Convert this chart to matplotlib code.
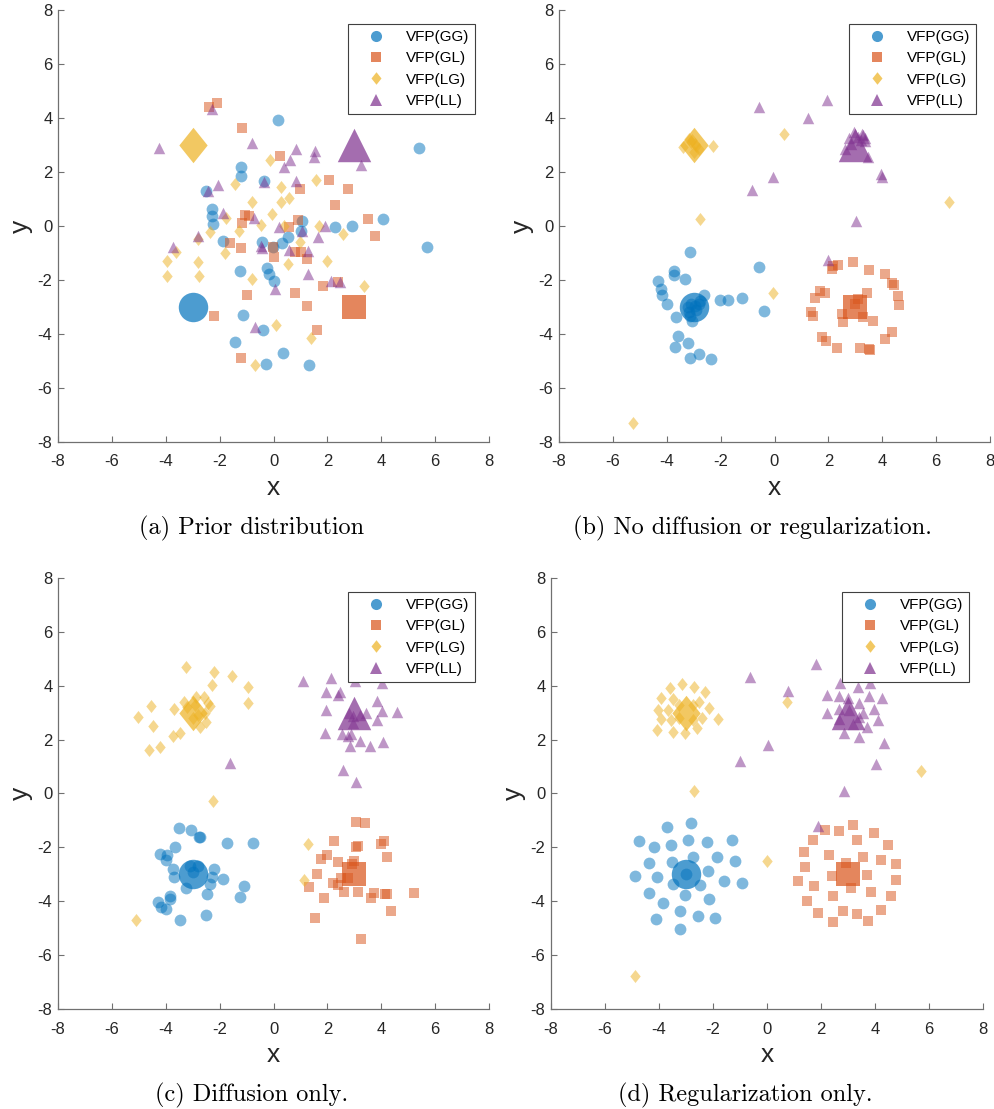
import matplotlib
matplotlib.use("Agg")
from matplotlib import pyplot as plt
from matplotlib.lines import Line2D
import numpy as np

plt.rcParams['font.family'] = ['Liberation Sans', 'DejaVu Sans']
plt.rcParams['axes.unicode_minus'] = False

series_names = ['VFP(GG)', 'VFP(GL)', 'VFP(LG)', 'VFP(LL)']
series_colors = ['#0072BD', '#D95319', '#EDB120', '#7E2F8E']
mean_x = [-3, 3, -3, 3]
mean_y = [-3, -3, 3, 3]
ticks = [-8, -6, -4, -2, 0, 2, 4, 6, 8]
captions = ['(a) Prior distribution', '(b) No diffusion or regularization.',
            '(c) Diffusion only.', '(d) Regularization only.']

# (a) prior samples
prior_gg = [(0.15, 3.91), (5.41, 2.90), (-1.19, 2.19), (-1.19, 1.85), (-0.35, 1.65), (-2.49, 1.28),
            (-2.28, 0.63), (-2.28, 0.38), (-2.24, 0.07), (4.07, 0.26), (1.07, 0.20), (2.28, -0.02),
            (2.90, -0.01), (1.02, -0.17), (0.54, -0.40), (0.30, -0.63), (-1.88, -0.57), (-0.42, -0.61),
            (-0.01, -0.76), (5.68, -0.79), (-1.23, -1.67), (-0.25, -1.56), (-0.17, -1.78), (0.02, -2.04),
            (-1.15, -3.28), (-0.40, -3.85), (-1.44, -4.28), (0.37, -4.69), (-0.26, -5.10), (1.31, -5.13)]
prior_gl = [(-2.39, 4.41), (-2.11, 4.56), (-1.16, 3.64), (0.24, 2.59), (2.06, 1.71), (0.98, 1.36),
            (2.75, 1.36), (2.30, 0.78), (3.52, 0.26), (3.76, -0.38), (-1.04, 0.41), (-0.90, 0.38),
            (-1.16, 0.11), (0.92, 0.22), (0.58, -0.05), (-1.61, -0.63), (-1.21, -0.83), (-0.01, -0.77),
            (0.02, -1.16), (0.79, -0.98), (1.02, -0.95), (1.23, -1.23), (1.85, -2.22), (2.38, -2.07),
            (-0.97, -2.54), (0.79, -2.49), (-2.20, -3.33), (1.25, -2.96), (1.60, -3.85), (-1.19, -4.88)]
prior_lg = [(-0.14, 2.43), (1.57, 1.72), (0.27, 1.46), (-1.42, 1.56), (-0.78, 0.90), (0.27, 0.90),
            (0.58, 1.03), (-0.05, 0.45), (-1.77, 0.28), (-0.45, 0.04), (0.38, 0.01), (-1.29, -0.17),
            (-2.37, -0.21), (-2.82, -0.48), (1.70, 0.01), (2.59, -0.30), (0.98, -0.58), (-3.63, -0.98),
            (-3.94, -1.29), (-2.82, -1.35), (-1.81, -1.00), (0.52, -1.41), (1.98, -1.29), (-3.94, -1.85),
            (-2.77, -1.87), (-0.78, -1.97), (3.36, -2.24), (0.11, -3.67), (1.39, -4.15), (-0.69, -5.13)]
prior_ll = [(-2.28, 4.32), (-4.25, 2.89), (-0.79, 3.08), (0.82, 2.86), (1.54, 2.77), (1.51, 2.55),
            (0.61, 2.45), (0.40, 2.18), (3.24, 2.27), (0.82, 1.68), (-0.36, 1.62), (-2.06, 1.52),
            (-2.43, 1.30), (-1.87, 0.48), (-0.72, 0.31), (0.20, -0.05), (1.07, -0.17), (1.91, 0.01),
            (1.66, -0.40), (-2.82, -0.36), (-3.73, -0.76), (-0.45, -0.73), (-0.42, -0.83), (0.58, -0.89),
            (1.29, -0.92), (1.29, -1.78), (2.13, -2.04), (2.46, -2.07), (0.05, -2.34), (-0.69, -3.74)]

# (b) no diffusion or regularization
plain_gg = [(-3.13, -0.98), (-0.59, -1.53), (-3.73, -1.67), (-3.73, -1.83), (-3.32, -1.96), (-4.33, -2.05),
            (-4.22, -2.35), (-4.18, -2.57), (-4.00, -2.88), (-2.60, -2.57), (-2.76, -2.76), (-2.02, -2.75),
            (-1.71, -2.75), (-1.19, -2.66), (-0.38, -3.13), (-3.66, -3.38), (-3.19, -3.17), (-3.07, -3.50),
            (-3.13, -3.32), (-3.59, -4.08), (-3.22, -4.34), (-3.69, -4.49), (-2.82, -4.74), (-3.13, -4.90),
            (-2.35, -4.93), (-3.10, -2.90), (-2.90, -3.10), (-2.80, -2.90), (-3.20, -3.00), (-2.95, -2.95)]
plain_gl = [(2.91, -1.34), (2.34, -1.46), (2.13, -1.58), (2.19, -1.49), (3.51, -1.62), (4.11, -1.78),
            (4.38, -2.12), (4.42, -2.20), (3.42, -2.48), (1.70, -2.41), (1.49, -2.65), (4.60, -2.61),
            (4.64, -2.91), (3.10, -2.72), (1.34, -3.17), (1.44, -3.35), (2.50, -3.25), (2.56, -3.56),
            (3.27, -3.37), (3.64, -3.53), (4.38, -3.94), (4.11, -4.18), (1.78, -4.12), (1.91, -4.25),
            (2.31, -4.52), (3.18, -4.52), (3.51, -4.55), (3.55, -4.59), (1.88, -2.48), (3.00, -2.90)]
plain_lg = [(-3.19, 3.24), (-3.38, 2.93), (-2.82, 2.87), (-3.00, 2.75), (-2.29, 2.96), (0.37, 3.40),
            (-2.75, 0.25), (6.46, 0.89), (-0.04, -2.48), (-5.27, -7.30), (-3.10, 3.10), (-2.90, 2.95),
            (-3.05, 3.20), (-2.95, 3.05)]
plain_ll = [(-0.57, 4.42), (1.96, 4.67), (1.23, 4.01), (2.96, 3.47), (3.30, 3.37), (3.37, 3.27),
            (2.62, 2.87), (3.47, 2.56), (3.96, 1.94), (3.99, 1.82), (-0.04, 1.82), (-0.84, 1.35),
            (3.02, 0.19), (2.00, -1.27), (3.10, 3.30), (2.85, 3.05), (3.20, 3.20), (3.35, 3.15),
            (2.75, 3.25), (3.25, 3.40)]

# (c) diffusion only
diff_gg = [(-3.50, -1.29), (-3.07, -1.35), (-2.76, -1.62), (-2.71, -1.63), (-1.71, -1.85), (-0.77, -1.82),
           (-3.67, -1.99), (-4.22, -2.24), (-3.94, -2.28), (-3.98, -2.46), (-3.73, -2.81), (-3.70, -3.11),
           (-3.11, -2.69), (-2.82, -2.69), (-2.22, -2.80), (-1.89, -3.16), (-2.30, -3.11), (-2.37, -3.37),
           (-3.23, -3.52), (-1.11, -3.43), (-1.25, -3.83), (-2.48, -3.73), (-3.85, -3.80), (-3.85, -3.93),
           (-4.28, -4.04), (-4.19, -4.20), (-4.00, -4.30), (-3.48, -4.69), (-2.50, -4.50), (-3.00, -2.90)]
diff_gl = [(3.08, -1.04), (3.39, -1.08), (2.23, -1.75), (3.99, -1.87), (4.11, -1.76), (3.08, -1.97),
           (3.14, -1.94), (4.22, -2.34), (1.97, -2.28), (1.78, -2.44), (2.38, -2.53), (2.98, -2.49),
           (2.90, -2.61), (1.62, -3.00), (2.75, -3.15), (2.50, -3.15), (2.22, -3.31), (2.38, -3.39),
           (1.31, -3.48), (2.63, -3.67), (3.12, -3.67), (3.74, -3.68), (4.14, -3.73), (4.20, -3.73),
           (3.62, -3.89), (1.88, -3.89), (5.23, -3.70), (4.36, -4.38), (1.54, -4.61), (3.24, -5.39)]
diff_lg = [(-3.26, 4.68), (-2.22, 4.50), (-1.54, 4.35), (-2.28, 4.01), (-0.94, 3.94), (-0.94, 3.36),
           (-4.53, 3.23), (-5.03, 2.84), (-3.70, 3.13), (-3.32, 3.38), (-2.89, 3.58), (-2.59, 3.60),
           (-2.43, 3.36), (-2.35, 3.23), (-2.55, 2.98), (-2.49, 2.67), (-2.74, 2.46), (-4.47, 2.49),
           (-3.48, 2.24), (-3.73, 2.14), (-4.22, 1.72), (-4.62, 1.60), (-2.24, -0.27), (1.29, -1.87),
           (1.14, -3.21), (-5.09, -4.69), (-3.20, 3.20), (-2.90, 3.30), (-2.80, 2.90), (-3.00, 2.80)]
diff_ll = [(1.08, 4.19), (2.13, 4.28), (3.02, 4.16), (4.01, 4.10), (1.94, 3.75), (2.46, 3.76),
           (2.38, 3.67), (3.83, 3.42), (1.94, 3.11), (4.01, 3.05), (4.57, 3.01), (3.42, 2.98),
           (2.96, 2.86), (3.83, 2.74), (2.96, 2.61), (1.91, 2.24), (2.56, 2.20), (2.86, 2.22),
           (2.75, 2.12), (3.21, 1.96), (4.05, 1.93), (3.58, 1.78), (2.84, 1.75), (-1.60, 1.13),
           (2.59, 0.88), (3.05, 0.41), (2.80, 3.00), (3.20, 2.90)]

# (d) regularization only
reg_gg = [(-2.82, -1.08), (-3.70, -1.25), (-4.73, -1.76), (-2.92, -1.72), (-2.22, -1.79), (-1.30, -1.72),
          (-4.18, -2.00), (-3.54, -1.92), (-2.73, -2.37), (-1.87, -2.37), (-4.36, -2.58), (-3.52, -2.56),
          (-1.19, -2.52), (-4.89, -3.08), (-4.08, -3.10), (-2.20, -2.89), (-3.50, -3.37), (-2.48, -3.41),
          (-1.59, -3.23), (-0.93, -3.33), (-4.38, -3.70), (-3.03, -3.78), (-2.14, -3.92), (-3.87, -4.07),
          (-3.23, -4.35), (-2.57, -4.54), (-4.12, -4.65), (-1.92, -4.64), (-3.24, -5.03), (-3.00, -2.97)]
reg_gl = [(3.20, -1.16), (2.15, -1.35), (2.65, -1.38), (3.97, -1.47), (1.72, -1.72), (3.35, -1.72),
          (4.47, -1.90), (1.38, -2.16), (2.29, -2.30), (3.55, -2.34), (4.22, -2.48), (2.93, -2.58),
          (1.41, -2.73), (4.78, -2.61), (2.39, -3.05), (3.71, -3.04), (1.15, -3.26), (4.76, -3.20),
          (1.74, -3.45), (3.11, -3.49), (2.44, -3.79), (3.86, -3.66), (4.60, -3.79), (1.47, -4.00),
          (2.81, -4.35), (4.22, -4.31), (1.90, -4.43), (3.34, -4.46), (2.46, -4.76), (3.73, -4.72)]
reg_lg = [(-3.60, 3.91), (-3.15, 4.05), (-2.72, 3.97), (-2.30, 3.76), (-3.93, 3.54), (-3.50, 3.50),
          (-2.51, 3.41), (-4.05, 3.10), (-3.68, 3.10), (-2.14, 3.16), (-3.93, 2.77), (-3.56, 2.73),
          (-2.39, 2.79), (-1.80, 2.77), (-4.09, 2.36), (-3.50, 2.27), (-3.03, 2.26), (-2.61, 2.42),
          (-3.25, 3.29), (-2.75, 3.29), (-3.25, 2.79), (-2.75, 2.73), (0.74, 3.41), (-2.69, 0.10),
          (0.00, -2.50), (5.71, 0.82), (-4.88, -6.79)]
reg_ll = [(1.82, 4.81), (-0.62, 4.31), (0.79, 3.82), (2.71, 4.12), (3.82, 4.12), (3.36, 3.94),
          (2.22, 3.66), (2.66, 3.62), (3.77, 3.62), (4.25, 3.54), (2.99, 3.54), (3.42, 3.37),
          (3.98, 3.14), (2.21, 3.00), (2.66, 3.13), (3.05, 3.10), (3.55, 2.98), (2.66, 2.77),
          (3.40, 2.83), (4.10, 2.73), (3.20, 2.58), (3.70, 2.46), (2.84, 2.26), (3.42, 2.09),
          (4.33, 1.87), (0.05, 1.80), (-0.99, 1.22), (4.04, 1.08), (2.86, 0.11), (1.88, -1.22)]

panels = [[prior_gg, prior_gl, prior_lg, prior_ll],
          [plain_gg, plain_gl, plain_lg, plain_ll],
          [diff_gg, diff_gl, diff_lg, diff_ll],
          [reg_gg, reg_gl, reg_lg, reg_ll]]

# matlab style diamond (a bit taller than wide)
diamond = [(0, 1), (0.8, 0), (0, -1), (-0.8, 0), (0, 1)]
markers = ['o', 's', diamond, '^']
small_sizes = [72, 48, 88, 68]
big_sizes = [450, 280, 650, 580]

W, H = 994, 1109
fig = plt.figure(figsize=(W / 100, H / 100), dpi=100)
# axes boxes in pixels: left, top, right, bottom
boxes = [(58, 10, 489, 442), (559, 10, 990, 442), (58, 578, 489, 1009), (551, 578, 983, 1009)]

for k, (l, t, r, b) in enumerate(boxes):
    ax = fig.add_axes([l / W, 1 - b / H, (r - l) / W, (b - t) / H])
    for i in range(4):
        pts = np.array(panels[k][i])
        ax.scatter(pts[:, 0], pts[:, 1], s=small_sizes[i], marker=markers[i],
                   color=series_colors[i], alpha=0.5, linewidths=0)
        ax.scatter(mean_x[i], mean_y[i], s=big_sizes[i], marker=markers[i],
                   color=series_colors[i], alpha=0.7, linewidths=0)
    ax.set_xlim(-8, 8)
    ax.set_ylim(-8, 8)
    ax.set_xticks(ticks)
    ax.set_yticks(ticks)
    ax.tick_params(direction='in', length=4, width=0.8, color='#707070',
                   labelsize=12, labelcolor='#262626', pad=4)
    ax.tick_params(axis='x', pad=9)
    for side in ['top', 'right']:
        ax.spines[side].set_visible(False)
    for side in ['left', 'bottom']:
        ax.spines[side].set_color('#707070')
        ax.spines[side].set_linewidth(0.9)
    ax.set_xlabel('x', fontsize=19, color='#262626', labelpad=5)
    ax.set_ylabel('y', fontsize=19, color='#262626', labelpad=3)

    handles = [Line2D([], [], linestyle='none', marker=markers[i], color=series_colors[i],
                      alpha=0.7, markersize=[8, 6.5, 9, 8][i], markeredgewidth=0)
               for i in range(4)]
    leg = ax.legend(handles, series_names, loc='upper right', fontsize=11,
                    frameon=True, fancybox=False, framealpha=1, edgecolor='#404040',
                    borderpad=0.4, labelspacing=0.48, handlelength=2.9, handletextpad=0.5,
                    borderaxespad=0.9)
    leg.get_frame().set_linewidth(0.8)

    cx = (l + r) / 2 - 22
    fig.text(cx / W, 1 - (b + 86) / H, captions[k], family=['cmr10', 'DejaVu Serif'],
             fontsize=17.5, ha='center', va='center', color='black')

fig.savefig('out.png', dpi=100)
